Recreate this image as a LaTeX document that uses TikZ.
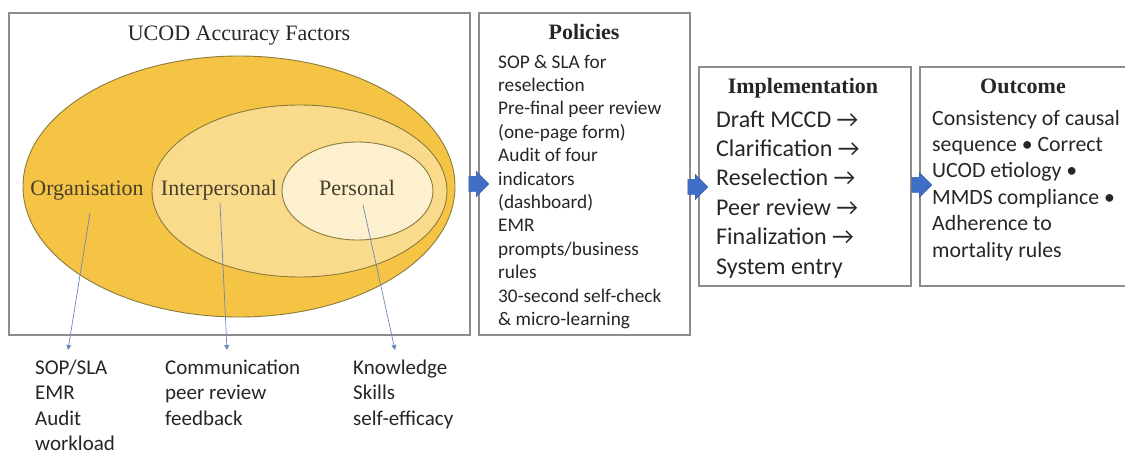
\documentclass[tikz,border=0pt]{standalone}
\usepackage{fontspec}
\setmainfont{Liberation Serif}
\newfontfamily\bodyfont{Carlito}
\usetikzlibrary{shapes.geometric,shapes.arrows,arrows.meta}

% multi-line text block whose reference point is the first baseline
\newcommand\txtblock[3]{\parbox[t]{8cm}{\raggedright\bodyfont\fontsize{#1}{#2}\selectfont #3}}

\definecolor{frame}{HTML}{8C8C8C}
\definecolor{gold1}{HTML}{F6C445}
\definecolor{gold2}{HTML}{FADB8C}
\definecolor{gold3}{HTML}{FDF0CF}
\definecolor{rim}{HTML}{8A7A3C}
\definecolor{ink}{HTML}{262626}
\definecolor{wire}{HTML}{6A88BA}
\definecolor{flow}{HTML}{3F6EC6}

\tikzset{
  panel/.style={draw=frame, line width=1.3pt},
  ring/.style={ellipse, draw=rim, line width=0.9pt, inner sep=0},
  heading/.style={anchor=base, inner sep=0, text=ink, font=\fontsize{22}{26}\selectfont},
  ringlabel/.style={anchor=base, inner sep=0, text=ink!70!rim, font=\fontsize{22}{26}\selectfont},
  listtext/.style={anchor=base west, inner sep=0, text=ink},
  wirelink/.style={draw=wire, line width=0.7pt, -{Triangle[length=5pt,width=5pt]}},
  flowarrow/.style={single arrow, fill=flow, draw=flow!80!black, line width=0.3pt,
    inner xsep=0pt, inner ysep=7.5pt, minimum height=20pt,
    single arrow head extend=5pt, single arrow head indent=0pt}
}

\begin{document}
\begin{tikzpicture}[x=1pt,y=-1pt]
\useasboundingbox (0,0) rectangle (1125,455);

% ---- factors panel ----
\draw[panel] (9,13) rectangle (470,335);
\node[heading] (ftitle) at (239,40) {UCOD Accuracy Factors};

\node[ring, fill=gold1, minimum width=432pt, minimum height=261pt] (org) at (239,186.5) {};
\node[ring, fill=gold2, minimum width=295pt, minimum height=172pt] (inter) at (299.5,191) {};
\node[ring, fill=gold3, minimum width=151pt, minimum height=98pt] (pers) at (357.5,191) {};

\node[ringlabel] (orgl) at (87,195) {Organisation};
\node[ringlabel] (interl) at (219,195) {Interpersonal};
\node[ringlabel] (persl) at (357,195) {Personal};

\coordinate (orgA) at (90,213);
\coordinate (orgB) at (68,350);
\coordinate (interA) at (220,203);
\coordinate (interB) at (227,350);
\coordinate (persA) at (363,205);
\coordinate (persB) at (395,350);
\draw[wirelink] (orgA) -- (orgB);
\draw[wirelink] (interA) -- (interB);
\draw[wirelink] (persA) -- (persB);

\node[listtext] (orglist) at (35,374) {\txtblock{21}{25.5}{SOP/SLA\\EMR\\Audit\\workload}};
\node[listtext] (interlist) at (165,374) {\txtblock{21}{25.5}{Communication\\peer review\\feedback}};
\node[listtext] (perslist) at (353,374) {\txtblock{21}{25.5}{Knowledge\\Skills\\self-efficacy}};

% ---- policies panel ----
\draw[panel] (479,13) rectangle (690,335);
\node[heading, font=\bfseries\fontsize{22}{26}\selectfont] (ptitle) at (584,39) {Policies};
\node[listtext] (plist) at (498,68) {\txtblock{19.3}{23.4}{SOP \& SLA for\\reselection\\Pre-final peer review\\(one-page form)\\Audit of four\\indicators\\(dashboard)\\EMR\\prompts/business\\rules\\30-second self-check\\\& micro-learning}};

% ---- implementation panel ----
\draw[panel] (699,67) rectangle (911,286);
\node[heading, font=\bfseries\fontsize{22}{26}\selectfont] (ititle) at (803,93) {Implementation};
\node[listtext] (ilist) at (716,127) {\txtblock{24}{29.4}{Draft MCCD →\\Clarification →\\Reselection →\\Peer review →\\Finalization →\\System entry}};

% ---- outcome panel ----
\draw[panel] (920,67) rectangle (1135,286);
\node[heading, font=\bfseries\fontsize{22}{26}\selectfont] (otitle) at (1023,93) {Outcome};
\node[listtext] (olist) at (932,125) {\txtblock{21.8}{26.4}{Consistency of causal\\sequence \textbullet\ Correct\\UCOD etiology \textbullet\\MMDS compliance \textbullet\\Adherence to\\mortality rules}};

% ---- flow arrows between panels ----
\node[flowarrow] (f1) at (475,184) {};
\node[flowarrow] (f2) at (694,187) {};
\node[flowarrow] (f3) at (918,185) {};

\end{tikzpicture}
\end{document}
